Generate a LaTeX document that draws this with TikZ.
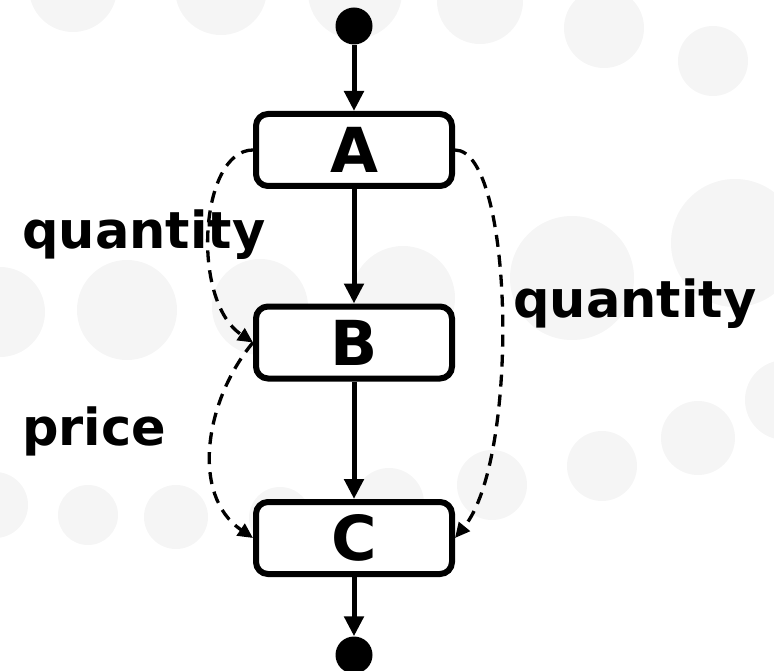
\documentclass[tikz,border=0pt]{standalone}
\usepackage{fontspec}
\setmainfont{DejaVu Sans}
\usetikzlibrary{arrows.meta}
\tikzset{
  bgdot/.style={fill=black!4, draw=none},
  box/.style={draw, line width=6pt, rounded corners=12pt, fill=white,
    minimum width=196pt, minimum height=72pt, inner sep=0pt,
    font=\fontsize{62}{64}\selectfont\bfseries},
  enddot/.style={circle, fill=black, minimum size=37pt, inner sep=0pt},
  flow/.style={line width=5pt, -{Triangle[length=20pt,width=19pt]}},
  dataflow/.style={line width=3.3pt, dash pattern=on 12pt off 8pt,
    -{Triangle[length=15pt,width=14pt]}},
  lbl/.style={inner sep=0pt, font=\fontsize{51}{55}\selectfont\bfseries}
}
\begin{document}
\begin{tikzpicture}[x=1pt,y=-1pt]
\useasboundingbox (0,0) rectangle (774,671);
\begin{scope}
\clip (0,0) rectangle (774,671);
\foreach \cx/\cy/\r in {73/-12/44, 221/-11/46, 355/-8/47, 480/1/43, 604/28/40, 713/61/35,
  0/312/45, 127/310/50, 260/307/48, 403/298/52, 572/278/62, 735/243/64,
  785/400/40, 698/438/37, 602/466/35, 492/485/35, 389/503/35, 280/518/31,
  176/517/32, 88/515/30, -5/505/33}
  \fill[bgdot] (\cx,\cy) circle[radius=\r];
\end{scope}
\node[enddot] (s) at (354,26) {};
\node[enddot] (e) at (354,655) {};
\node[box] (A) at (354,150) {A};
\node[box] (B) at (354,342.5) {B};
\node[box] (C) at (354,538) {C};
\draw[flow] (s) -- (A);
\draw[flow] (A) -- (B);
\draw[flow] (B) -- (C);
\draw[flow] (C) -- (e);
\draw[dataflow] (A.west) .. controls (200,150) and (190,300) .. (B.west);
\draw[dataflow] (B.west) .. controls (205,400) and (190,495) .. (C.west);
\draw[dataflow] (A.east) .. controls (514,150) and (520,459) .. (C.east);
\node[lbl, anchor=base west] (q1) at (22,249) {quantity};
\node[lbl, anchor=base west] (q2) at (513,317) {quantity};
\node[lbl, anchor=base west] (p) at (22,445) {price};
\end{tikzpicture}
\end{document}
